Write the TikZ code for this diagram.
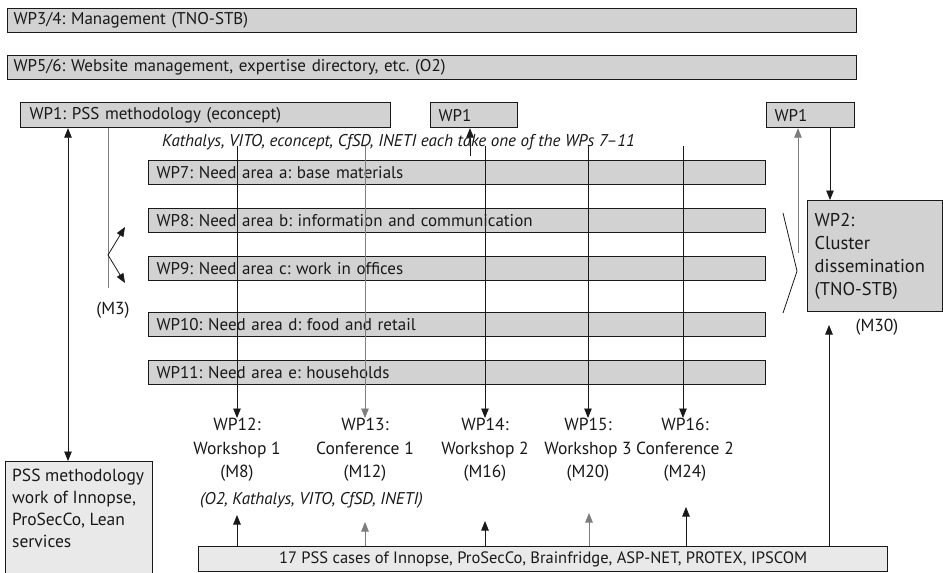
\documentclass[tikz,border=0pt]{standalone}
\usepackage{fontspec}
\setmainfont{PT Sans}
\usetikzlibrary{arrows.meta}
\definecolor{boxfill}{RGB}{210,210,210}
\definecolor{lightfill}{RGB}{233,233,233}
\definecolor{lgray}{RGB}{125,125,125}
\definecolor{ink}{RGB}{25,25,25}
\newcommand{\boxfont}{\fontsize{17}{19}\selectfont}
\newcommand{\lblfont}{\fontsize{17.5}{23.5}\selectfont}
\newcommand{\wptwofont}{\fontsize{18.5}{23}\selectfont}
\newcommand{\pssfont}{\fontsize{17.5}{22}\selectfont}
\newcommand{\itfont}{\fontsize{17}{19}\selectfont\itshape}
\frenchspacing
\begin{document}
\begin{tikzpicture}[x=1pt,y=-1pt,
  box/.style={draw=ink, line width=1.2pt, fill=boxfill, anchor=north west,
    inner xsep=8pt, inner ysep=0pt, align=left, font=\boxfont,
    minimum height=24pt, text=ink},
  pale/.style={box, fill=lightfill},
  lbl/.style={font=\lblfont, align=center, inner sep=0pt, text=ink},
  ln/.style={line width=0.8pt, draw=ink},
  gl/.style={line width=0.8pt, draw=lgray},
  tip/.style={-{Triangle[width=7.5pt,length=9.5pt]}},
  twotip/.style={{Triangle[width=7.5pt,length=9.5pt]}-{Triangle[width=7.5pt,length=9.5pt]}},
]
\useasboundingbox (0,0) rectangle (943,573);
\fill[white] (0,0) rectangle (943,573);

% top boxes
\node[box, minimum width=849pt, text width=837pt, inner xsep=6pt] (m34) at (7,8) {WP3/4: Management (TNO-STB)};
\node[box, minimum width=849pt, text width=837pt, inner xsep=6pt] (w56) at (7,55) {WP5/6: Website management, expertise directory, etc. (O2)};
\node[box, minimum width=370pt, text width=352pt, minimum height=25pt, inner xsep=9pt] (wp1a) at (20,102) {WP1: PSS methodology (econcept)};
\node[box, minimum width=87pt, text width=71pt, minimum height=25pt] (wp1b) at (430,102) {WP1};
\node[box, minimum width=88pt, text width=72pt, minimum height=25pt] (wp1c) at (766,102) {WP1};

\node[font=\itfont, anchor=west, inner sep=0pt, text=ink] (kat) at (162,142) {Kathalys, VITO, econcept, CfSD, INETI each take one of the WPs 7--11};

% need areas
\node[box, minimum width=617pt, text width=601pt] (wp7) at (148,160) {WP7: Need area a: base materials};
\node[box, minimum width=617pt, text width=601pt] (wp8) at (148,208) {WP8: Need area b: information and communication};
\node[box, minimum width=617pt, text width=601pt] (wp9) at (148,256) {WP9: Need area c: work in offices};
\node[box, minimum width=617pt, text width=601pt] (wp10) at (148,312) {WP10: Need area d: food and retail};
\node[box, minimum width=617pt, text width=601pt] (wp11) at (148,360) {WP11: Need area e: households};

% WP2
\node[box, minimum width=135pt, text width=121pt, minimum height=111pt, inner xsep=7pt, font=\wptwofont] (wp2) at (807,200) {WP2:\\Cluster\\dissemination\\(TNO-STB)};
\node[lbl] (m30) at (877,327) {(M30)};
\node[lbl] (m3) at (113,310) {(M3)};

% workshops
\node[lbl, anchor=north] (ws1) at (237,418) {WP12:\\Workshop 1\\(M8)};
\node[lbl, anchor=north] (ws2) at (365,418) {WP13:\\Conference 1\\(M12)};
\node[lbl, anchor=north] (ws3) at (485,418) {WP14:\\Workshop 2\\(M16)};
\node[lbl, anchor=north] (ws4) at (588,418) {WP15:\\Workshop 3\\(M20)};
\node[lbl, anchor=north] (ws5) at (685,418) {WP16:\\Conference 2\\(M24)};

\node[font=\itfont, anchor=west, inner sep=0pt, text=ink] (o2) at (200,500) {(O2, Kathalys, VITO, CfSD, INETI)};

% bottom boxes
\node[pale, minimum width=147pt, minimum height=116pt] (pss) at (5,461) {};
\node[anchor=north west, font=\pssfont, align=left, inner sep=0pt, text=ink] (psstext) at ([xshift=7pt,yshift=-8pt]pss.north west) {PSS methodology\\work of Innopse,\\ProSecCo, Lean\\services};
\node[pale, minimum width=689pt, minimum height=25pt, inner xsep=0pt, font=\fontsize{16.5}{18}\selectfont] (cases) at (198,546) {17 PSS cases of Innopse, ProSecCo, Brainfridge, ASP-NET, PROTEX, IPSCOM};

% coordinates
\coordinate (xL) at (68,0);
\coordinate (s1) at (237,146);
\coordinate (s2) at (365,146);
\coordinate (s3) at (485,146);
\coordinate (s4) at (588,146);
\coordinate (s5) at (683,146);
\coordinate (upb) at (470,156);
\coordinate (mtop) at (108,0);
\coordinate (mbot) at (108,288);
\coordinate (mv) at (108,255);
\coordinate (ma) at (125,227);
\coordinate (mb) at (125,283);
\coordinate (g1) at (798,253);
\coordinate (xd) at (830,0);
\coordinate (ch1) at (783,213);
\coordinate (ch2) at (797,271);
\coordinate (ch3) at (783,313);
\coordinate (wu) at (829,325);
\coordinate (u1) at (237,515);
\coordinate (u2) at (365,522);
\coordinate (u3) at (485,521);
\coordinate (u4) at (589,513);
\coordinate (u5) at (686,507);

% connectors
\draw[ln, twotip] (wp1a.south -| xL) -- (pss.north -| xL);
\draw[gl] (wp1a.south -| mtop) -- (mbot);
\draw[ln, tip] (mv) -- (ma);
\draw[ln, tip] (mv) -- (mb);

\draw[ln, tip] (s1) -- (ws1.north);
\draw[gl, tip] (s2) -- (ws2.north);
\draw[ln, tip] (s3) -- (ws3.north);
\draw[ln, tip] (s4) -- (ws4.north);
\draw[ln, tip] (s5) -- (ws5.north -| s5);
\draw[ln, tip] (upb) -- (wp1b.south -| upb);

\draw[gl, tip] (g1) -- (wp1c.south -| g1);
\draw[ln, tip] (wp1c.south -| xd) -- (wp2.north -| xd);
\draw[ln] (ch1) -- (ch2) -- (ch3);

\draw[ln, tip] (cases.north -| wu) -- (wu);
\draw[ln, tip] (cases.north -| u1) -- (u1);
\draw[gl, tip] (cases.north -| u2) -- (u2);
\draw[ln, tip] (cases.north -| u3) -- (u3);
\draw[gl, tip] (cases.north -| u4) -- (u4);
\draw[ln, tip] (cases.north -| u5) -- (u5);
\end{tikzpicture}
\end{document}
